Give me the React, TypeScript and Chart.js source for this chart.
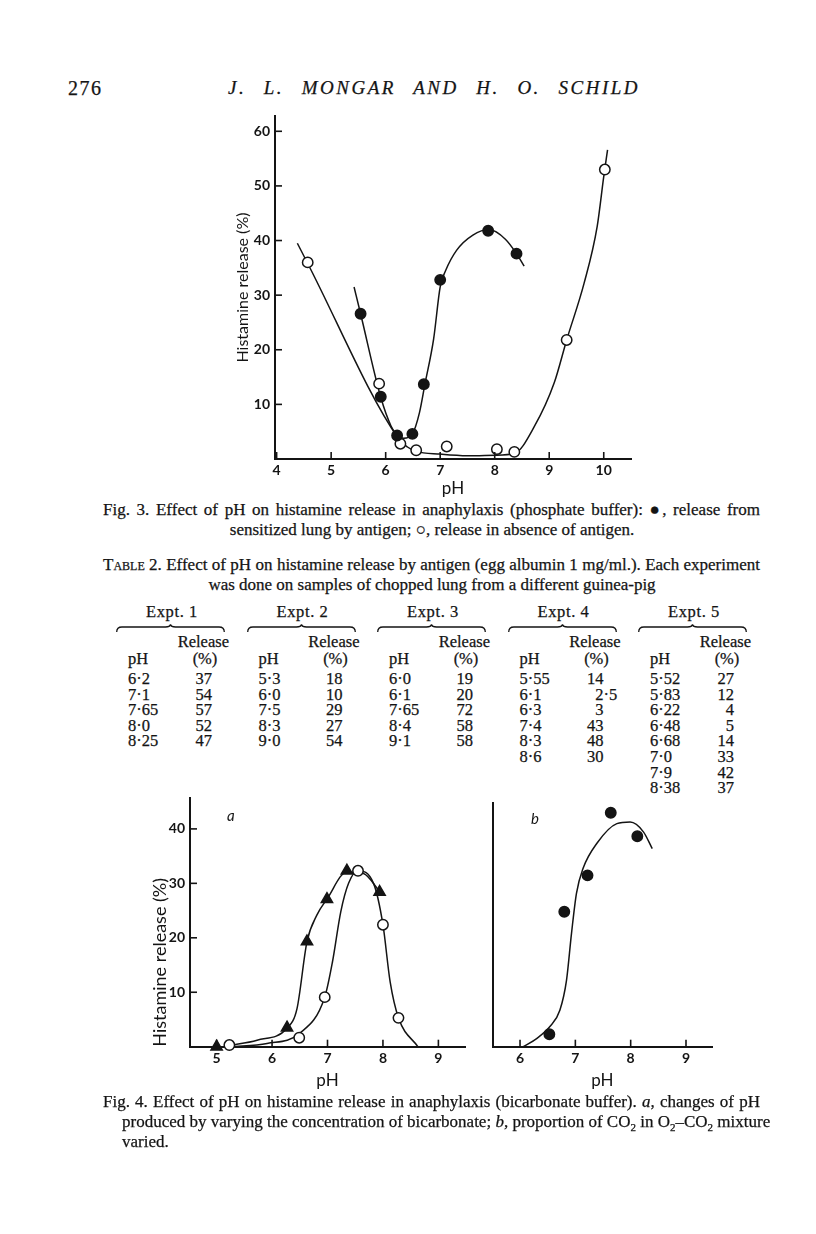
import React, { useEffect, useRef } from "react";
import { Chart, registerables } from "chart.js";

Chart.register(...registerables);

// ---------- Fig. 3 (phosphate buffer) ----------
const FIG3_X_TICKS = [4, 5, 6, 7, 8, 9, 10];
const FIG3_Y_TICKS = [10, 20, 30, 40, 50, 60];
// filled circles: release from sensitized lung by antigen
const FIG3_FILLED_PH = [5.54, 5.91, 6.21, 6.49, 6.7, 7.0, 7.88, 8.4];
const FIG3_FILLED_REL = [26.6, 11.4, 4.3, 4.6, 13.7, 32.8, 41.8, 37.6];
// open circles: release in absence of antigen
const FIG3_OPEN_PH = [4.57, 5.88, 6.27, 6.56, 7.12, 8.04, 8.36, 9.32, 10.02];
const FIG3_OPEN_REL = [36.0, 13.8, 2.8, 1.6, 2.3, 1.8, 1.3, 21.8, 53.0];
// hand-drawn fitted curves
const FIG3_FILLED_FIT_PH = [5.42, 5.54, 5.91, 6.1, 6.22, 6.33, 6.49, 6.62, 6.72, 6.88, 7.0, 7.1, 7.3, 7.6, 7.9, 8.2, 8.4, 8.54];
const FIG3_FILLED_FIT_REL = [31.5, 26.6, 11.3, 6.0, 4.2, 3.8, 4.6, 8.5, 13.7, 22.0, 31.5, 34.5, 38.2, 41.0, 42.0, 40.2, 37.6, 35.3];
const FIG3_OPEN_FIT_PH = [4.38, 4.57, 6.23, 6.4, 6.56, 7.0, 7.5, 8.0, 8.36, 8.73, 9.09, 9.32, 9.64, 9.88, 10.0, 10.07];
const FIG3_OPEN_FIT_REL = [39.5, 35.8, 3.8, 2.2, 1.4, 0.9, 0.6, 0.7, 1.0, 6.0, 13.9, 21.8, 32.2, 42.6, 51.7, 56.6];

// ---------- Fig. 4a (bicarbonate concentration varied) ----------
const FIG4A_X_TICKS = [5, 6, 7, 8, 9];
const FIG4A_Y_TICKS = [10, 20, 30, 40];
const FIG4A_TRI_PH = [5.0, 6.27, 6.63, 6.99, 7.35, 7.94];
const FIG4A_TRI_REL = [0, 3.5, 19.3, 27.1, 32.3, 28.4];
const FIG4A_OPEN_PH = [5.23, 6.49, 6.95, 7.55, 8.0, 8.28];
const FIG4A_OPEN_REL = [0.3, 1.65, 9.1, 32.3, 22.4, 5.3];
const FIG4A_TRI_FIT_PH = [5.22, 5.73, 6.27, 6.45, 6.63, 6.81, 6.99, 7.35, 7.65, 7.94];
const FIG4A_TRI_FIT_REL = [0.2, 1.2, 3.4, 7.0, 19.3, 24.2, 27.1, 32.1, 31.8, 28.5];
const FIG4A_OPEN_FIT_PH = [5.25, 5.91, 6.49, 6.95, 7.09, 7.24, 7.38, 7.55, 7.83, 8.0, 8.13, 8.28, 8.63];
const FIG4A_OPEN_FIT_REL = [0, 0.6, 2.4, 9.1, 15.6, 24.8, 30.0, 32.3, 30.0, 22.4, 11.9, 5.3, 0];

// ---------- Fig. 4b (CO2 proportion varied) ----------
const FIG4B_X_TICKS = [6, 7, 8, 9];
const FIG4B_PH = [6.53, 6.8, 7.22, 7.64, 8.12];
const FIG4B_REL = [2.3, 24.8, 31.5, 43.0, 38.7];
const FIG4B_FIT_PH = [6.06, 6.3, 6.54, 6.72, 6.84, 6.93, 7.02, 7.14, 7.39, 7.75, 7.99, 8.23, 8.39];
const FIG4B_FIT_REL = [0, 1.5, 3.7, 6.7, 12.2, 20.8, 28.2, 32.8, 37.4, 41.0, 41.3, 39.5, 36.4];

// ---------- Table 2 ----------
const EXPT_LABELS = ["Expt. 1", "Expt. 2", "Expt. 3", "Expt. 4", "Expt. 5"];
const EXPT1_PH = ["6·2", "7·1", "7·65", "8·0", "8·25"];
const EXPT1_REL = ["37", "54", "57", "52", "47"];
const EXPT2_PH = ["5·3", "6·0", "7·5", "8·3", "9·0"];
const EXPT2_REL = ["18", "10", "29", "27", "54"];
const EXPT3_PH = ["6·0", "6·1", "7·65", "8·4", "9·1"];
const EXPT3_REL = ["19", "20", "72", "58", "58"];
const EXPT4_PH = ["5·55", "6·1", "6·3", "7·4", "8·3", "8·6"];
const EXPT4_REL = ["14", "2·5", "3", "43", "48", "30"];
const EXPT5_PH = ["5·52", "5·83", "6·22", "6·48", "6·68", "7·0", "7·9", "8·38"];
const EXPT5_REL = ["27", "12", "4", "5", "14", "33", "42", "37"];

const SERIF = '"Liberation Serif", "Times New Roman", serif';
const SANS = 'Lato, "Open Sans", sans-serif';
const INK = "#141414";
const INK_STROKE = "0.25px " + INK;

const xy = (xs: number[], ys: number[]) => xs.map((x, i) => ({ x, y: ys[i] }));

const inwardTicks = {
  id: "inwardTicks",
  afterDraw(chart: any) {
    const { ctx, chartArea } = chart;
    ctx.save();
    ctx.strokeStyle = INK;
    ctx.lineWidth = 1.6;
    const xs = chart.scales.x;
    const ys = chart.scales.y;
    xs.ticks.forEach((t: any) => {
      const p = xs.getPixelForValue(t.value);
      ctx.beginPath();
      ctx.moveTo(p, chartArea.bottom);
      ctx.lineTo(p, chartArea.bottom - 7);
      ctx.stroke();
    });
    ys.ticks.forEach((t: any) => {
      const p = ys.getPixelForValue(t.value);
      ctx.beginPath();
      ctx.moveTo(chartArea.left, p);
      ctx.lineTo(chartArea.left + 7, p);
      ctx.stroke();
    });
    ctx.restore();
  },
};

type Geom = {
  cx: number; cy: number; cw: number; ch: number;
  padL: number; padT: number; padR: number; padB: number;
  yW: number; xH: number;
};

function pointsDs(data: any[], style: "open" | "filled" | "triangle") {
  return {
    data,
    showLine: false,
    order: 0,
    clip: false,
    pointStyle: style === "triangle" ? "triangle" : "circle",
    pointRadius: style === "triangle" ? 6.5 : 5.2,
    pointBackgroundColor: style === "open" ? "#ffffff" : INK,
    pointBorderColor: INK,
    pointBorderWidth: 1.5,
  };
}

function curveDs(data: any[]) {
  return {
    data,
    showLine: true,
    order: 1,
    clip: false,
    borderColor: INK,
    borderWidth: 1.5,
    pointRadius: 0,
    cubicInterpolationMode: "monotone",
  };
}

const X_TITLE_SIZE = 17;

function makeConfig(opts: {
  g: Geom;
  datasets: any[];
  xMin: number; xMax: number; xTicks: number[];
  yMin: number; yMax: number; yTicks: number[];
  yTitle?: string; yTitleAlign?: string; yTitleSize?: number; showY: boolean;
}) {
  const { g } = opts;
  const tickFont = { family: SANS, size: 14, weight: "bold" as const };
  return {
    type: "scatter",
    data: { datasets: opts.datasets },
    options: {
      responsive: false,
      animation: false,
      events: [],
      layout: { padding: { left: g.padL, top: g.padT, right: g.padR, bottom: g.padB } },
      plugins: { legend: { display: false }, tooltip: { enabled: false } },
      scales: {
        x: {
          type: "linear",
          min: opts.xMin,
          max: opts.xMax,
          grid: { display: false, drawTicks: false },
          border: { display: true, color: INK, width: 2 },
          afterBuildTicks: (s: any) => { s.ticks = opts.xTicks.map((v) => ({ value: v })); },
          afterFit: (s: any) => { s.height = g.xH; },
          ticks: { color: INK, font: tickFont, padding: 3, maxRotation: 0, autoSkip: false, callback: (v: any) => String(v) },
          title: { display: true, text: "pH", color: INK, font: { family: SANS, size: X_TITLE_SIZE }, padding: 0 },
        },
        y: {
          type: "linear",
          min: opts.yMin,
          max: opts.yMax,
          grid: { display: false, drawTicks: false },
          border: { display: true, color: INK, width: 2 },
          afterBuildTicks: (s: any) => { s.ticks = opts.yTicks.map((v) => ({ value: v })); },
          afterFit: (s: any) => { s.width = g.yW; },
          ticks: { display: opts.showY, color: INK, font: tickFont, padding: 5, autoSkip: false, callback: (v: any) => String(v) },
          title: opts.yTitle
            ? { display: true, text: opts.yTitle, align: opts.yTitleAlign || "center", color: INK, font: { family: SANS, size: opts.yTitleSize || 16 }, padding: 0 }
            : { display: false },
        },
      },
    },
    plugins: [inwardTicks],
  };
}

function Plot({ g, build }: { g: Geom; build: () => any }) {
  const ref = useRef<HTMLCanvasElement>(null);
  useEffect(() => {
    const chart = new Chart(ref.current as HTMLCanvasElement, build());
    return () => chart.destroy();
  }, []);
  return (
    <canvas
      ref={ref}
      width={g.cw}
      height={g.ch}
      style={{ position: "absolute", left: g.cx, top: g.cy, width: g.cw, height: g.ch }}
    />
  );
}

function geom(cx: number, cy: number, cw: number, ch: number, L: number, T: number, R: number, B: number, yTitleX: number | null, yTitleSize: number, xTitleY: number): Geom {
  const yScaleLeft = yTitleX === null ? cx : yTitleX - (yTitleSize * 1.2) / 2;
  const xScaleBottom = xTitleY + (X_TITLE_SIZE * 1.2) / 2;
  return {
    cx, cy, cw, ch,
    padL: yScaleLeft - cx,
    padT: T - cy,
    padR: cx + cw - R,
    padB: cy + ch - xScaleBottom,
    yW: L - yScaleLeft,
    xH: xScaleBottom - B,
  };
}

const G3 = geom(200, 100, 450, 400, 275, 116, 631, 459, 243, 16, 489);
const G4A = geom(140, 785, 340, 310, 190, 798, 465, 1046.7, 160, 18, 1081);
const G4B = geom(480, 785, 250, 310, 492.7, 803, 712, 1046.7, null, 16, 1081);

function T(props: { x: number; y: number; align?: "left" | "right" | "center"; size?: number; style?: any; children: any }) {
  const align = props.align || "left";
  const lh = 20;
  const base: any = {
    position: "absolute", top: props.y - lh / 2, lineHeight: lh + "px", whiteSpace: "nowrap",
    fontFamily: SERIF, fontSize: props.size || 17, color: INK, WebkitTextStroke: INK_STROKE,
  };
  if (align === "left") { base.left = props.x; }
  if (align === "right") { base.left = props.x - 300; base.width = 300; base.textAlign = "right"; }
  if (align === "center") { base.left = props.x - 300; base.width = 600; base.textAlign = "center"; }
  return <div style={{ ...base, ...(props.style || {}) }}>{props.children}</div>;
}

function J(props: { x: number; y: number; w: number; size?: number; style?: any; children: any }) {
  const lh = 20;
  return (
    <div
      style={{
        position: "absolute", left: props.x, top: props.y - lh / 2, width: props.w, lineHeight: lh + "px",
        fontFamily: SERIF, fontSize: props.size || 17, color: INK, textAlign: "justify", textAlignLast: "justify",
        whiteSpace: "nowrap", WebkitTextStroke: INK_STROKE, ...(props.style || {}),
      }}
    >
      {props.children}
    </div>
  );
}

function Brace({ x, y, w }: { x: number; y: number; w: number }) {
  const m = w / 2;
  const d = `M0.7,8 Q0.7,3 6,3 L${m - 5},3 Q${m - 0.5},3 ${m},0.5 Q${m + 0.5},3 ${m + 5},3 L${w - 6},3 Q${w - 0.7},3 ${w - 0.7},8`;
  return (
    <svg style={{ position: "absolute", left: x, top: y }} width={w} height={10} viewBox={`0 0 ${w} 10`}>
      <path d={d} fill="none" stroke={INK} strokeWidth={1.3} />
    </svg>
  );
}

const TS = 16.5;
const ROW0 = 679;
const ROW_STEP = 15.6;

function RelCell({ x, y, v }: { x: number; y: number; v: string }) {
  const parts = v.split("·");
  return (
    <>
      <T x={x} y={y} align="right" size={TS}>{parts[0]}</T>
      {parts.length > 1 ? <T x={x} y={y} size={TS}>{"·" + parts[1]}</T> : null}
    </>
  );
}

const EXPT_PHS = [EXPT1_PH, EXPT2_PH, EXPT3_PH, EXPT4_PH, EXPT5_PH];
const EXPT_RELS = [EXPT1_REL, EXPT2_REL, EXPT3_REL, EXPT4_REL, EXPT5_REL];

function Table() {
  const out: any[] = [];
  EXPT_LABELS.forEach((label, i) => {
    const x0 = 128 + 130.5 * i;
    out.push(<T key={"l" + i} x={x0 + 44} y={612} align="center" size={TS} style={{ letterSpacing: 0.6 }}>{label}</T>);
    out.push(<Brace key={"b" + i} x={x0 - 12} y={624} w={109} />);
    out.push(<T key={"r" + i} x={x0 + 101} y={642} align="right" size={TS}>Release</T>);
    out.push(<T key={"p" + i} x={x0} y={659} size={TS}>pH</T>);
    out.push(<T key={"c" + i} x={x0 + 77} y={659} align="center" size={TS}>(%)</T>);
    EXPT_PHS[i].forEach((ph, k) => {
      const y = ROW0 + ROW_STEP * k;
      out.push(<T key={`ph${i}-${k}`} x={x0} y={y} size={TS}>{ph}</T>);
      out.push(<RelCell key={`rv${i}-${k}`} x={x0 + 84} y={y} v={EXPT_RELS[i][k]} />);
    });
  });
  return <>{out}</>;
}

export default function App() {
  const build3 = () =>
    makeConfig({
      g: G3,
      datasets: [
        pointsDs(xy(FIG3_FILLED_PH, FIG3_FILLED_REL), "filled"),
        pointsDs(xy(FIG3_OPEN_PH, FIG3_OPEN_REL), "open"),
        curveDs(xy(FIG3_FILLED_FIT_PH, FIG3_FILLED_FIT_REL)),
        curveDs(xy(FIG3_OPEN_FIT_PH, FIG3_OPEN_FIT_REL)),
      ],
      xMin: 3.97, xMax: 10.5, xTicks: FIG3_X_TICKS,
      yMin: 0, yMax: 62.8, yTicks: FIG3_Y_TICKS,
      yTitle: "Histamine release (%)", yTitleAlign: "center", yTitleSize: 16, showY: true,
    });
  const build4a = () =>
    makeConfig({
      g: G4A,
      datasets: [
        pointsDs(xy(FIG4A_TRI_PH, FIG4A_TRI_REL), "triangle"),
        pointsDs(xy(FIG4A_OPEN_PH, FIG4A_OPEN_REL), "open"),
        curveDs(xy(FIG4A_TRI_FIT_PH, FIG4A_TRI_FIT_REL)),
        curveDs(xy(FIG4A_OPEN_FIT_PH, FIG4A_OPEN_FIT_REL)),
      ],
      xMin: 4.52, xMax: 9.48, xTicks: FIG4A_X_TICKS,
      yMin: 0, yMax: 45.6, yTicks: FIG4A_Y_TICKS,
      yTitle: "Histamine release (%)", yTitleAlign: "start", yTitleSize: 18, showY: true,
    });
  const build4b = () =>
    makeConfig({
      g: G4B,
      datasets: [
        pointsDs(xy(FIG4B_PH, FIG4B_REL), "filled"),
        curveDs(xy(FIG4B_FIT_PH, FIG4B_FIT_REL)),
      ],
      xMin: 5.506, xMax: 9.47, xTicks: FIG4B_X_TICKS,
      yMin: 0, yMax: 44.8, yTicks: [],
      showY: false,
    });

  return (
    <div style={{ position: "absolute", left: 0, top: 0, width: 816, height: 1234, background: "#fff", overflow: "hidden" }}>
      <T x={68} y={88} size={20} style={{ letterSpacing: 1.5 }}>276</T>
      <J x={228} y={88} w={412} size={19} style={{ fontStyle: "italic", letterSpacing: 2.5 }}>J. L. MONGAR AND H. O. SCHILD</J>

      <Plot g={G3} build={build3} />

      <J x={103} y={510} w={657}>Fig. 3. Effect of pH on histamine release in anaphylaxis (phosphate buffer): ●, release from</J>
      <T x={432} y={530} align="center">sensitized lung by antigen; ○, release in absence of antigen.</T>

      <J x={103} y={565} w={657}><span style={{ fontVariant: "small-caps" }}>Table</span> 2. Effect of pH on histamine release by antigen (egg albumin 1 mg/ml.). Each experiment</J>
      <T x={432} y={585} align="center">was done on samples of chopped lung from a different guinea-pig</T>

      <Table />

      <Plot g={G4A} build={build4a} />
      <Plot g={G4B} build={build4b} />
      <T x={227} y={815} size={15} style={{ fontFamily: SANS, fontStyle: "italic", WebkitTextStroke: "0px" }}>a</T>
      <T x={531} y={818} size={15} style={{ fontFamily: SANS, fontStyle: "italic", WebkitTextStroke: "0px" }}>b</T>

      <J x={103} y={1102} w={657}>Fig. 4. Effect of pH on histamine release in anaphylaxis (bicarbonate buffer). <i>a</i>, changes of pH</J>
      <J x={122} y={1122} w={638}>produced by varying the concentration of bicarbonate; <i>b</i>, proportion of CO<sub style={{ fontSize: 11 }}>2</sub> in O<sub style={{ fontSize: 11 }}>2</sub>–CO<sub style={{ fontSize: 11 }}>2</sub> mixture</J>
      <T x={122} y={1142}>varied.</T>
    </div>
  );
}
